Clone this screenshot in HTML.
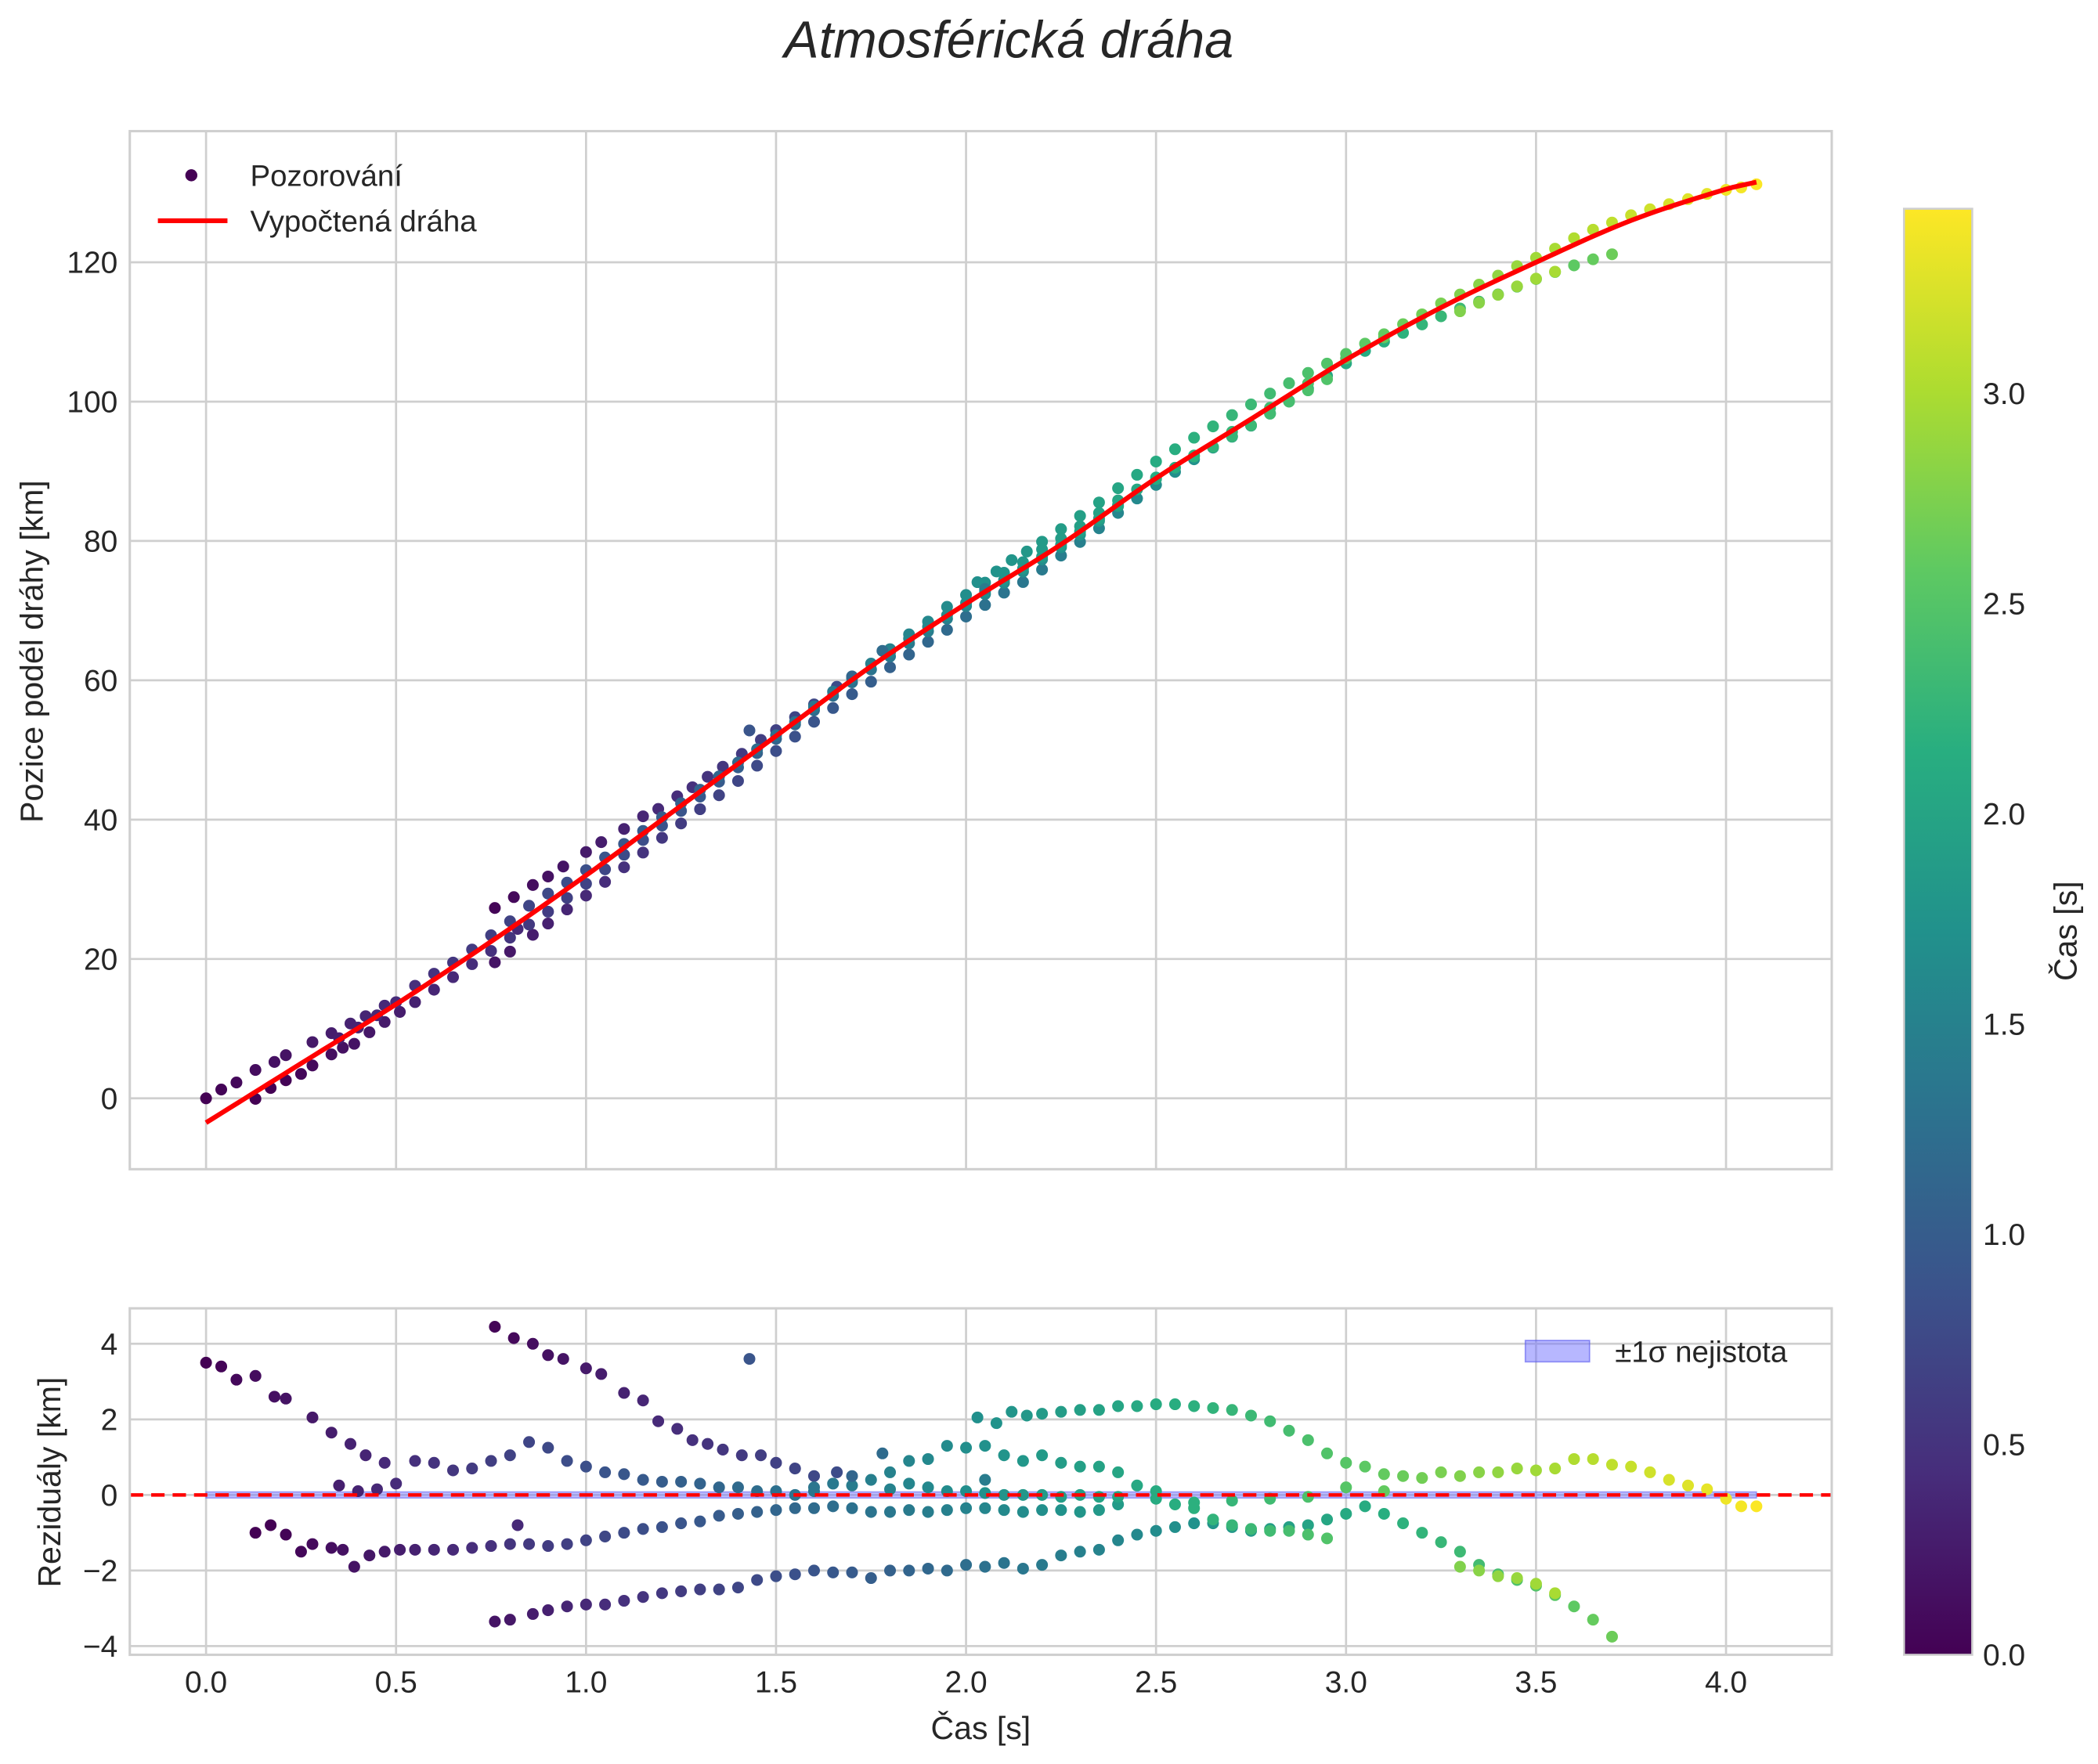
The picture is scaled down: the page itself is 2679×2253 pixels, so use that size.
<!DOCTYPE html>
<html><head><meta charset="utf-8"><style>
html,body{margin:0;padding:0;background:#fff}
svg{display:block}
text{font-family:"Liberation Sans",sans-serif;fill:#262626}
</style></head><body>
<svg id="chart" width="2679" height="2253" viewBox="0 0 1568 1318.6" xmlns="http://www.w3.org/2000/svg">
<defs>
<linearGradient id="vir" x1="0" y1="1" x2="0" y2="0">
<stop offset="0" stop-color="#440154"/><stop offset="0.125" stop-color="#472d7b"/><stop offset="0.25" stop-color="#3b528b"/><stop offset="0.375" stop-color="#2c728e"/><stop offset="0.5" stop-color="#21918c"/><stop offset="0.625" stop-color="#28ae80"/><stop offset="0.75" stop-color="#5ec962"/><stop offset="0.875" stop-color="#addc30"/><stop offset="1" stop-color="#fde725"/>
</linearGradient>
<clipPath id="clipTop"><rect x="97" y="98" width="1272" height="776"/></clipPath>
<clipPath id="clipBot"><rect x="97" y="978" width="1272" height="259"/></clipPath>
</defs>
<text x="754" y="43" font-size="39" font-style="italic" text-anchor="middle">Atmosférická dráha</text>
<g id="topPlot"></g>
<g id="botPlot"></g>
<g id="cbarG"></g>
</svg>
<script>
// Model curve (time s, position km)
const curveT = [0,0.25,0.5,0.75,1.0,1.25,1.5,1.75,2.0,2.25,2.5,2.75,3.0,3.25,3.5,3.75,4.0,4.08];
const curveY = [-3.5,5,13.5,22.5,32,42,52,62,71,79.5,89,97.5,106,113.5,120,126,130.5,131.5];
// Residual tracks: [time, residual km]
const trackA = [[0,3.5],[0.04,3.4],[0.08,3.05],[0.13,3.15],[0.18,2.6],[0.21,2.55],[0.28,2.05],[0.33,1.65],[0.38,1.35],[0.42,1.05],[0.47,0.85]];
const trackB = [[0.76,4.45],[0.81,4.15],[0.86,4.0],[0.9,3.7],[0.94,3.6],[1.0,3.35],[1.04,3.2],[1.1,2.7],[1.15,2.5],[1.19,1.95],[1.24,1.75],[1.28,1.45],[1.32,1.35],[1.36,1.2],[1.41,1.05],[1.46,1.05],[1.5,0.85],[1.55,0.7],[1.6,0.5],[1.66,0.6]];
const trackC = [[0.76,-3.35],[0.8,-3.3],[0.86,-3.15],[0.9,-3.05],[0.95,-2.95],[1.0,-2.9],[1.05,-2.9],[1.1,-2.8],[1.15,-2.7],[1.2,-2.6],[1.25,-2.55],[1.3,-2.5],[1.35,-2.5],[1.4,-2.45],[1.45,-2.25],[1.5,-2.15],[1.55,-2.1],[1.6,-2.0],[1.65,-2.05],[1.7,-2.05],[1.75,-2.2],[1.8,-2.0],[1.85,-2.0],[1.9,-1.95],[1.95,-2.0],[2.0,-1.85],[2.05,-1.9],[2.1,-1.8],[2.15,-1.95],[2.2,-1.85],[2.25,-1.6],[2.3,-1.5],[2.35,-1.45],[2.4,-1.2],[2.45,-1.05],[2.5,-0.95],[2.55,-0.85],[2.6,-0.75],[2.65,-0.75],[2.7,-0.85],[2.75,-0.95],[2.8,-0.9],[2.85,-0.85],[2.9,-0.8],[2.95,-0.65],[3.0,-0.5],[3.05,-0.3],[3.1,-0.5],[3.15,-0.75],[3.2,-1.0],[3.25,-1.25],[3.3,-1.5],[3.35,-1.85],[3.4,-2.1],[3.45,-2.25],[3.5,-2.4],[3.55,-2.65],[3.6,-2.95],[3.65,-3.3],[3.7,-3.75]];
const trackD = [[0.13,-1.0],[0.17,-0.8],[0.21,-1.05],[0.25,-1.5],[0.28,-1.3],[0.33,-1.4],[0.36,-1.45],[0.39,-1.9],[0.43,-1.6],[0.47,-1.5],[0.51,-1.45],[0.55,-1.45],[0.6,-1.45],[0.65,-1.45],[0.7,-1.4],[0.75,-1.35],[0.8,-1.3],[0.85,-1.3],[0.9,-1.35],[0.95,-1.3],[1.0,-1.2],[1.05,-1.1],[1.1,-1.0],[1.15,-0.9],[1.2,-0.85],[1.25,-0.75],[1.3,-0.7],[1.35,-0.55],[1.4,-0.5],[1.45,-0.45],[1.5,-0.4],[1.55,-0.35],[1.6,-0.35],[1.65,-0.3],[1.7,-0.35],[1.75,-0.45],[1.8,-0.45],[1.85,-0.4],[1.9,-0.45],[1.95,-0.4],[2.0,-0.35],[2.05,-0.35],[2.1,-0.4],[2.15,-0.45],[2.2,-0.4],[2.25,-0.4],[2.3,-0.45],[2.35,-0.4],[2.4,-0.25]];
const trackE = [[0.35,0.25],[0.4,0.1],[0.45,0.15],[0.5,0.3],[0.55,0.9],[0.6,0.85],[0.65,0.65],[0.7,0.7],[0.75,0.9],[0.8,1.05],[0.85,1.4],[0.9,1.25],[0.95,0.9],[1.0,0.75],[1.05,0.6],[1.1,0.55],[1.15,0.4],[1.2,0.35],[1.25,0.35],[1.3,0.3],[1.35,0.2],[1.4,0.2],[1.45,0.1],[1.5,0.1],[1.55,0.0],[1.6,0.1]];
const trackF = [[1.8,0.6],[1.85,0.9],[1.9,0.95],[1.95,1.3],[2.0,1.25],[2.03,2.05],[2.08,1.9],[2.12,2.2],[2.16,2.1],[2.2,2.15],[2.25,2.2],[2.3,2.25],[2.35,2.25],[2.4,2.35],[2.45,2.35],[2.5,2.4],[2.55,2.4],[2.6,2.35],[2.65,2.3],[2.7,2.25],[2.75,2.1],[2.8,1.95],[2.85,1.7],[2.9,1.45],[2.95,1.1],[3.0,0.85],[3.05,0.75],[3.1,0.55],[3.15,0.5],[3.2,0.45],[3.25,0.6],[3.3,0.5],[3.35,0.6],[3.4,0.6],[3.45,0.7],[3.5,0.65],[3.55,0.7],[3.6,0.95],[3.65,0.95],[3.7,0.8],[3.75,0.75],[3.8,0.6],[3.85,0.4],[3.9,0.25],[3.95,0.15],[4.0,-0.1],[4.04,-0.3],[4.08,-0.3]];
const trackG = [[2.05,1.3],[2.1,1.05],[2.15,0.9],[2.2,1.05],[2.25,0.85],[2.3,0.75],[2.35,0.75],[2.4,0.6],[2.45,0.25],[2.5,0.1],[2.55,-0.25],[2.6,-0.35],[2.65,-0.65],[2.7,-0.8],[2.75,-0.9],[2.8,-0.95],[2.85,-0.95],[2.9,-1.05],[2.95,-1.15]];
const trackH = [[1.6,0.2],[1.65,0.3],[1.7,0.25],[1.75,0.4],[1.8,0.15],[1.85,0.3],[1.9,0.2],[1.95,0.1],[2.0,0.1],[2.05,0.05],[2.1,0.0],[2.15,0.0],[2.2,0.0],[2.25,-0.05],[2.3,0.0],[2.35,-0.05],[2.4,-0.05],[2.5,-0.1],[2.6,-0.2],[2.7,-0.15],[2.8,-0.1],[2.9,-0.05],[3.0,0.2],[3.1,0.1]];
const trackI = [[3.3,-1.9],[3.35,-2.0],[3.4,-2.15],[3.45,-2.2],[3.5,-2.35],[3.55,-2.6]];
const outliers = [[1.43,3.6],[1.78,1.1],[0.82,-0.8],[2.05,0.4],[1.7,0.5]];
const tracks = [trackA,trackB,trackC,trackD,trackE,trackF,trackG,trackH,trackI,outliers];
const colorOffset = [0,0.6,0.45,0.15,0,0,0,0,0,0.3];
const xTicks = [0,0.5,1.0,1.5,2.0,2.5,3.0,3.5,4.0];
const yTicksTop = [0,20,40,60,80,100,120];
const yTicksBot = [-4,-2,0,2,4];
const cTicks = [0,0.5,1.0,1.5,2.0,2.5,3.0];

const NS="http://www.w3.org/2000/svg";
function mk(tag,attrs,parent){const e=document.createElementNS(NS,tag);for(const k in attrs)e.setAttribute(k,attrs[k]);parent.appendChild(e);return e;}
const X=t=>154+t*284;
const YT=v=>821-v*5.208;
const YB=v=>1117.5-v*28.25;
const YC=c=>1237-c*314.3;
const vstops=[[68,1,84],[71,45,123],[59,82,139],[44,114,142],[33,145,140],[40,174,128],[94,201,98],[173,220,48],[253,231,37]];
function vir(c){let f=Math.max(0,Math.min(1,c/3.44))*8;const i=Math.min(7,Math.floor(f));f-=i;const a=vstops[i],b=vstops[i+1];return `rgb(${a.map((v,k)=>Math.round(v+(b[k]-v)*f)).join(',')})`;}
function slope(i){const n=curveT.length;if(i===0)return (curveY[1]-curveY[0])/(curveT[1]-curveT[0]);if(i===n-1)return (curveY[n-1]-curveY[n-2])/(curveT[n-1]-curveT[n-2]);return (curveY[i+1]-curveY[i-1])/(curveT[i+1]-curveT[i-1]);}
function curveAt(t){for(let i=1;i<curveT.length;i++){if(t<=curveT[i]){const h=curveT[i]-curveT[i-1],s=(t-curveT[i-1])/h;const h00=2*s*s*s-3*s*s+1,h10=s*s*s-2*s*s+s,h01=-2*s*s*s+3*s*s,h11=s*s*s-s*s;return h00*curveY[i-1]+h10*h*slope(i-1)+h01*curveY[i]+h11*h*slope(i);}}return curveY[curveY.length-1];}

const topG=document.getElementById('topPlot'),botG=document.getElementById('botPlot'),cbG=document.getElementById('cbarG');
for(const t of xTicks){
 let l=mk('line',{x1:X(t),x2:X(t),y1:98,y2:874,stroke:'#cfcfcf','stroke-width':1.6},topG);
 
 
 l=mk('line',{x1:X(t),x2:X(t),y1:978,y2:1237,stroke:'#cfcfcf','stroke-width':1.6},botG);
 
 
 const tx=mk('text',{x:X(t),y:1265,'font-size':22.8,'text-anchor':'middle'},botG);tx.textContent=t.toFixed(1);
 
 
}
for(const v of yTicksTop){
 const l=mk('line',{x1:97,x2:1369,y1:YT(v),y2:YT(v),stroke:'#cfcfcf','stroke-width':1.6},topG);
 
 
 const tx=mk('text',{x:88,y:YT(v)+8,'font-size':22.8,'text-anchor':'end'},topG);tx.textContent=String(v);
 
 
}
for(const v of yTicksBot){
 const l=mk('line',{x1:97,x2:1369,y1:YB(v),y2:YB(v),stroke:'#cfcfcf','stroke-width':1.6},botG);
 
 
 const tx=mk('text',{x:88,y:YB(v)+8,'font-size':22.8,'text-anchor':'end'},botG);tx.textContent=(v<0?'\u2212'+(-v):String(v));
 
 
}
const bandPts=[];for(const t of curveT)bandPts.push(X(t)+','+YB(0.08));for(let i=curveT.length-1;i>=0;i--)bandPts.push(X(curveT[i])+','+YB(-0.08));
const band=mk('polygon',{points:bandPts.join(' '),fill:'#6f6fff','fill-opacity':0.45,stroke:'#5555ee','stroke-opacity':0.5},botG);


const gT=mk('g',{'clip-path':'url(#clipTop)'},topG),gB=mk('g',{'clip-path':'url(#clipBot)'},botG);
tracks.forEach((tr,ti)=>{for(const [t,r] of tr){
 const col=vir(Math.max(0,0.84*t-colorOffset[ti]));
 let c=mk('circle',{cx:X(t),cy:YT(curveAt(t)+r),r:4.4,fill:col},gT);
 
 
 c=mk('circle',{cx:X(t),cy:YB(r),r:4.4,fill:col},gB);
 
 
}});
const zl=mk('line',{x1:97,x2:1369,y1:YB(0),y2:YB(0),stroke:'#ff0000','stroke-width':2.6,'stroke-dasharray':'10,6'},botG);


const cp=[];for(let i=0;i<=200;i++){const t=4.08*i/200;cp.push(X(t).toFixed(2)+','+YT(curveAt(t)).toFixed(2));}
const cl=mk('polyline',{points:cp.join(' '),fill:'none',stroke:'#ff0000','stroke-width':3.6,'stroke-linejoin':'round'},topG);


let f=mk('rect',{x:97,y:98,width:1272,height:776,fill:'none',stroke:'#cfcfcf','stroke-width':1.8},topG);


f=mk('rect',{x:97,y:978,width:1272,height:259,fill:'none',stroke:'#cfcfcf','stroke-width':1.8},botG);


let t1=mk('text',{x:0,y:0,'font-size':24,'text-anchor':'middle',transform:'translate(32,487) rotate(-90)'},topG);t1.textContent='Pozice podél dráhy [km]';


t1=mk('text',{x:0,y:0,'font-size':24,'text-anchor':'middle',transform:'translate(45,1108) rotate(-90)'},botG);t1.textContent='Reziduály [km]';


t1=mk('text',{x:733,y:1300,'font-size':24,'text-anchor':'middle'},botG);t1.textContent='Čas [s]';


let lg=mk('g',{},topG);


mk('circle',{cx:143,cy:131,r:4.5,fill:'#440154'},lg);
let lt=mk('text',{x:187,y:139,'font-size':22.5},lg);lt.textContent='Pozorování';
mk('line',{x1:118,x2:170,y1:165,y2:165,stroke:'#ff0000','stroke-width':3.6},lg);
lt=mk('text',{x:187,y:173,'font-size':22.5},lg);lt.textContent='Vypočtená dráha';
lg=mk('g',{},botG);


mk('rect',{x:1140,y:1002,width:48,height:16,fill:'#6f6fff','fill-opacity':0.5,stroke:'#5555ee','stroke-opacity':0.6},lg);
lt=mk('text',{x:1207,y:1018,'font-size':22.5},lg);lt.textContent='±1σ nejistota';
const cr=mk('rect',{x:1423,y:156,width:51,height:1081,fill:'url(#vir)',stroke:'#cfcfcf','stroke-width':1.5},cbG);


for(const c of cTicks){const tx=mk('text',{x:1482,y:YC(c)+8,'font-size':22.8},cbG);tx.textContent=c.toFixed(1);
 
 }
t1=mk('text',{x:0,y:0,'font-size':24,'text-anchor':'middle',transform:'translate(1552,696) rotate(-90)'},cbG);t1.textContent='Čas [s]';


</script>
</body></html>
